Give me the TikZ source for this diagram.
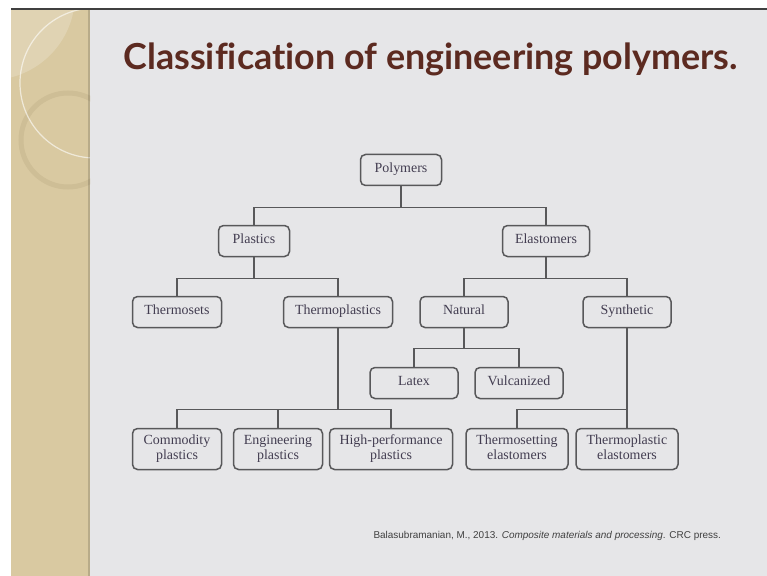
\documentclass[tikz,border=0pt]{standalone}
\usepackage{fontspec}
\setmainfont{Liberation Serif}
\newfontfamily\titlefont[Ligatures=NoCommon]{Lato}
\newfontfamily\citefont{Liberation Sans}

\definecolor{slidegrey}{RGB}{230,230,232}
\definecolor{striptan}{RGB}{217,201,161}
\definecolor{ringtan}{RGB}{206,190,150}
\definecolor{titlebrown}{RGB}{92,42,32}
\definecolor{boxline}{RGB}{88,88,90}
\definecolor{boxtext}{RGB}{66,60,80}

\tikzset{
  box/.style={draw=boxline, line width=1.5bp, rounded corners=5bp, fill=slidegrey,
    text=boxtext, align=center, minimum height=31bp, inner xsep=0pt, inner ysep=3bp,
    text depth=4bp, font=\fontsize{14}{15}\selectfont},
  link/.style={draw=boxline, line width=1.5bp}
}

\begin{document}
\begin{tikzpicture}[x=1bp,y=-1bp]
  \useasboundingbox (0,0) rectangle (767,576);
  \fill[white] (0,0) rectangle (767,576);
  \fill[slidegrey] (11,9) rectangle (767,576);
  \begin{scope}
    \clip (11,9) rectangle (90,576);
    \fill[striptan] (11,9) rectangle (90,576);
    \fill[white, opacity=0.2] (-10,-5) circle (85bp);
    \draw[ringtan, line width=5bp] (68,140) circle (47bp);
    \draw[white, opacity=0.6, line width=1.2bp] (95,83) circle (75bp);
    \fill[black, opacity=0.15] (88,9) rectangle (90,576);
  \end{scope}
  \draw[black!75, line width=1.2bp] (11,9) -- (767,9);

  \node[anchor=base west, text=titlebrown, font=\titlefont\bfseries\fontsize{36}{40}\selectfont]
    (title) at (120,70) {Classification of engineering polymers.};

  \foreach \nm/\px/\py/\w/\h/\txt in {
    poly/401/170/81/31/Polymers,
    plast/254/241/71/31/Plastics,
    elast/546/241/87/31/Elastomers,
    tset/177/312/89/31/Thermosets,
    tplast/338/312/109/31/Thermoplastics,
    natur/464/312/88/31/Natural,
    synth/627/312/88/31/Synthetic,
    latex/414/383/88/31/Latex,
    vulc/519/383/88/31/Vulcanized,
    commod/177/449/89/41/{Commodity\\plastics},
    engin/278/449/89/41/{Engineering\\plastics},
    highp/391/449/123/41/{High-performance\\plastics},
    tsel/517/449/102/41/{Thermosetting\\elastomers},
    tpel/627/449/102/41/{Thermoplastic\\elastomers}} {
    \node[box, minimum width=\w bp, minimum height=\h bp] (\nm) at (\px,\py) {\txt};
  }

  \foreach \p/\c/\d in {poly/plast/21, poly/elast/21, plast/tset/21, plast/tplast/21,
    elast/natur/21, elast/synth/21, natur/latex/20, natur/vulc/20,
    tplast/commod/81, tplast/engin/81, tplast/highp/81, synth/tsel/81, synth/tpel/81} {
    \draw[link] (\p.south) -- ++(0,\d) -| (\c.north);
  }

  \node[anchor=base west, text=black!75, font=\citefont\fontsize{10}{12}\selectfont]
    (cite) at (370,538) {Balasubramanian, M., 2013. \textit{Composite materials and processing}. CRC press.};
\end{tikzpicture}
\end{document}
